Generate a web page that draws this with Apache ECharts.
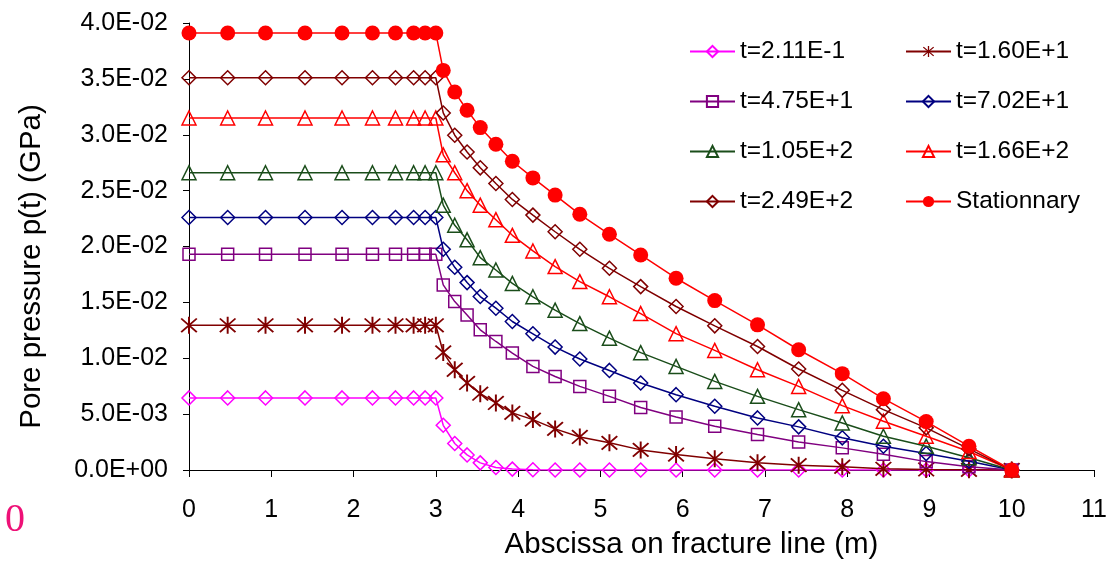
<!DOCTYPE html>
<html>
<head>
<meta charset="utf-8">
<script src="https://cdn.jsdelivr.net/npm/echarts@6/dist/echarts.min.js"></script>
<style>
  html, body { margin: 0; padding: 0; background: #fff; }
  #main { width: 1110px; height: 565px; }
</style>
</head>
<body>
<div id="main"></div>
<script>
// abscissa of the nodes on the fracture line (m)
const xPos = [0, 0.47, 0.93, 1.41, 1.86, 2.23, 2.51, 2.73, 2.87, 3.0,
  3.09, 3.23, 3.38, 3.54, 3.73, 3.93, 4.18, 4.45, 4.75, 5.11,
  5.49, 5.92, 6.39, 6.91, 7.41, 7.94, 8.44, 8.96, 9.48, 10];

// pore pressure (GPa) for each time step
const p211 = [0.00645, 0.00645, 0.00645, 0.00645, 0.00645, 0.00645, 0.00645, 0.00645, 0.00645, 0.00645,
  0.0040, 0.00237, 0.00135, 0.00064, 0.00022, 0.00008, 0.00002, 0, 0, 0,
  0, 0, 0, 0, 0, 0, 0, 0, 0, 0];
const p160 = [0.01295, 0.01295, 0.01295, 0.01295, 0.01295, 0.01295, 0.01295, 0.01295, 0.01295, 0.01295,
  0.01052, 0.00897, 0.00779, 0.00683, 0.0060, 0.00511, 0.00451, 0.00368, 0.00296, 0.00243,
  0.0018, 0.00138, 0.0010, 0.00064, 0.00043, 0.00029, 0.00011, 0.00005, 0.00002, 0];
const p475 = [0.0193, 0.0193, 0.0193, 0.0193, 0.0193, 0.0193, 0.0193, 0.0193, 0.0193, 0.0193,
  0.01656, 0.01507, 0.01388, 0.01254, 0.0115, 0.01046, 0.00927, 0.00837, 0.00748, 0.00659,
  0.0056, 0.00475, 0.00391, 0.00317, 0.0025, 0.00198, 0.0014, 0.00075, 0.0003, 0];
const p702 = [0.0226, 0.0226, 0.0226, 0.0226, 0.0226, 0.0226, 0.0226, 0.0226, 0.0226, 0.0226,
  0.01975, 0.01814, 0.01677, 0.01552, 0.01448, 0.01329, 0.01219, 0.0110, 0.00993, 0.00891,
  0.00779, 0.00674, 0.0057, 0.00466, 0.00386, 0.00288, 0.00213, 0.00147, 0.00079, 0];
const p105 = [0.0266, 0.0266, 0.0266, 0.0266, 0.0266, 0.0266, 0.0266, 0.0266, 0.0266, 0.0266,
  0.0237, 0.0219, 0.0206, 0.0190, 0.0179, 0.0167, 0.0155, 0.0143, 0.0131, 0.0118,
  0.0105, 0.00927, 0.00793, 0.00659, 0.0054, 0.00421, 0.00302, 0.00213, 0.00109, 0];
const p166 = [0.0315, 0.0315, 0.0315, 0.0315, 0.0315, 0.0315, 0.0315, 0.0315, 0.0315, 0.0315,
  0.0282, 0.0266, 0.0250, 0.0237, 0.0224, 0.0210, 0.0196, 0.0182, 0.01686, 0.0155,
  0.0140, 0.0122, 0.0107, 0.00897, 0.00748, 0.00576, 0.00436, 0.00302, 0.00165, 0];
const p249 = [0.0351, 0.0351, 0.0351, 0.0351, 0.0351, 0.0351, 0.0351, 0.0351, 0.0351, 0.0351,
  0.03195, 0.02996, 0.02846, 0.02704, 0.02564, 0.02421, 0.02281, 0.02132, 0.01975, 0.01805,
  0.01641, 0.01463, 0.0129, 0.01105, 0.00904, 0.00713, 0.0054, 0.00377, 0.00189, 0];
const pStat = [0.0391, 0.0391, 0.0391, 0.0391, 0.0391, 0.0391, 0.0391, 0.0391, 0.0391, 0.0391,
  0.03576, 0.03382, 0.03219, 0.03064, 0.02915, 0.02763, 0.02614, 0.0246, 0.02288, 0.02109,
  0.01924, 0.01716, 0.01516, 0.01299, 0.01076, 0.00862, 0.00638, 0.00433, 0.00213, 0];

const names = ['t=2.11E-1', 't=1.60E+1', 't=4.75E+1', 't=7.02E+1',
  't=1.05E+2', 't=1.66E+2', 't=2.49E+2', 'Stationnary'];
const values = [p211, p160, p475, p702, p105, p166, p249, pStat];
const colors = ['#ff00ff', '#800000', '#800080', '#000080',
  '#1a4d1a', '#ff0000', '#800000', '#ff0000'];

// asterisk marker (vertical bar + X) built from thin bars
const starPath = 'path://M45 0L55 0L55 100L45 100Z' +
  'M13.5 6.5L93.5 86.5L86.5 93.5L6.5 13.5Z' +
  'M86.5 6.5L93.5 13.5L13.5 93.5L6.5 86.5Z';
const symbols = ['diamond', starPath, 'rect', 'diamond', 'triangle', 'triangle', 'diamond', 'circle'];
const sizes = [14, 17, 12, 14, 14, 14, 14, 15];

const font = 'Liberation Sans, Arial, sans-serif';

function sci(v) {
  if (v === 0) return '0.0E+00';
  let e = Math.floor(Math.log10(Math.abs(v)) + 1e-9);
  let m = v / Math.pow(10, e);
  if (Math.round(m * 10) / 10 >= 10) { m /= 10; e += 1; }
  const sign = e < 0 ? '-' : '+';
  const ee = String(Math.abs(e)).padStart(2, '0');
  return m.toFixed(1) + 'E' + sign + ee;
}

const series = names.map(function (n, i) {
  const filled = (i === 1 || i === 7);
  return {
    name: n,
    type: 'line',
    data: xPos.map(function (x, k) { return [x, values[i][k]]; }),
    symbol: symbols[i],
    symbolSize: sizes[i],
    showAllSymbol: true,
    lineStyle: { color: colors[i], width: 1.5 },
    itemStyle: filled
      ? { color: colors[i], borderWidth: 0 }
      : { color: 'rgba(255,255,255,0)', borderColor: colors[i], borderWidth: 1.5 },
    emphasis: { disabled: true },
    z: 2 + i
  };
});

const chart = echarts.init(document.getElementById('main'));

const legendBase = {
  orient: 'vertical',
  itemWidth: 45,
  itemHeight: 14,
  itemGap: 25,
  top: 34,
  textStyle: { fontFamily: font, fontSize: 24.5, color: '#000', lineHeight: 24 },
  selectedMode: false
};

chart.setOption({
  animation: false,
  backgroundColor: '#fff',
  grid: { left: 189, right: 14, top: 23, bottom: 94.5 },
  legend: [
    Object.assign({}, legendBase, { left: 684, data: [names[0], names[2], names[4], names[6]] }),
    Object.assign({}, legendBase, { left: 900, data: [names[1], names[3], names[5], names[7]] })
  ],
  xAxis: {
    type: 'value',
    min: 0,
    max: 11,
    interval: 1,
    name: 'Abscissa on fracture line (m)',
    nameLocation: 'middle',
    nameGap: 60,
    nameTextStyle: { fontFamily: font, fontSize: 29.5, color: '#000', padding: [0, 0, 0, 100] },
    axisLine: { lineStyle: { color: '#000', width: 1 } },
    axisTick: { length: 7, lineStyle: { color: '#000' } },
    axisLabel: { margin: 28, fontFamily: font, fontSize: 25, color: '#000' },
    splitLine: { show: false }
  },
  yAxis: {
    type: 'value',
    min: 0,
    max: 0.04,
    interval: 0.005,
    name: 'Pore pressure p(t) (GPa)',
    nameLocation: 'middle',
    nameGap: 142,
    nameTextStyle: { fontFamily: font, fontSize: 29.5, color: '#000', padding: [0, 40, 0, 0] },
    axisLine: { show: true, lineStyle: { color: '#000', width: 1 } },
    axisTick: { show: true, length: 6, lineStyle: { color: '#000' } },
    axisLabel: { margin: 21, fontFamily: font, fontSize: 25, color: '#000', formatter: sci },
    splitLine: { show: false }
  },
  graphic: [{
    type: 'text',
    left: 5,
    top: 500,
    style: { text: '0', fontFamily: 'Liberation Serif, Times New Roman, serif', fontSize: 40, fill: '#ee1177' }
  }],
  series: series
});
</script>
</body>
</html>
